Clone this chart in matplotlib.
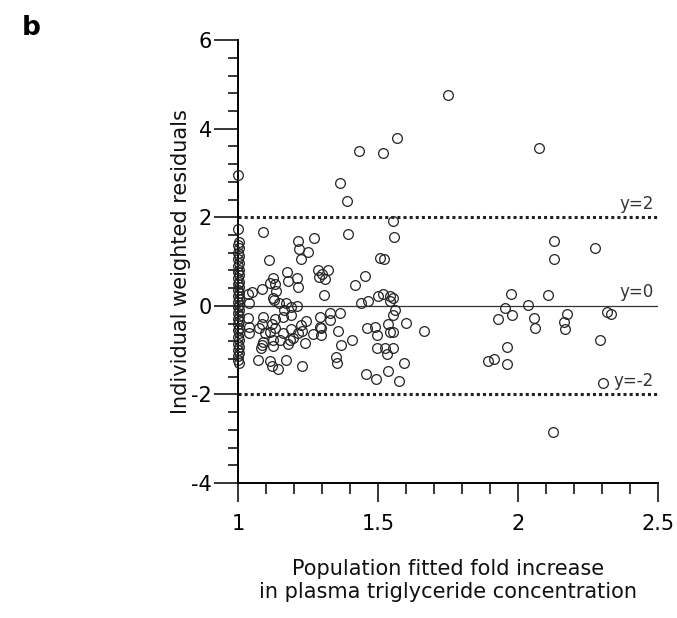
import matplotlib
matplotlib.use('Agg')
import matplotlib.pyplot as plt
from matplotlib.ticker import MultipleLocator

# points stacked at the x = 1 boundary
col_x = [1.0, 1.0, 1.002, 1.0, 1.003, 1.0, 1.002, 1.0, 1.004, 1.0, 1.002, 1.0, 1.003, 1.0,
         1.002, 1.0, 1.004, 1.0, 1.002, 1.0, 1.003, 1.0, 1.002, 1.0, 1.004, 1.0, 1.002, 1.0,
         1.003, 1.0, 1.002, 1.0, 1.004, 1.0, 1.002, 1.0, 1.003, 1.0, 1.002, 1.0, 1.0, 1.003]
col_y = [2.95, 1.73, 1.45, 1.38, 1.30, 1.20, 1.12, 1.05, 0.97, 0.90, 0.82, 0.76, 0.70, 0.62,
         0.55, 0.49, 0.42, 0.36, 0.30, 0.22, 0.15, 0.09, 0.03, -0.03, -0.10, -0.16, -0.22, -0.29,
         -0.35, -0.42, -0.49, -0.55, -0.62, -0.70, -0.78, -0.86, -0.93, -1.00, -1.06, -1.13, -1.22, -1.30]

# cluster between 1.0 and 1.4
left_x = [1.035, 1.048, 1.083, 1.038, 1.089, 1.11, 1.113, 1.125, 1.131, 1.134, 1.175, 1.178,
          1.208, 1.214, 1.212, 1.218, 1.25, 1.224, 1.271, 1.286, 1.319, 1.298, 1.289, 1.31,
          1.307, 1.123, 1.128, 1.146, 1.17, 1.187, 1.208, 1.164, 1.19, 1.16, 1.131, 1.087,
          1.035, 1.039, 1.039, 1.083, 1.075, 1.119, 1.131, 1.113, 1.095, 1.223, 1.242, 1.226,
          1.19, 1.214, 1.16, 1.266, 1.295, 1.295, 1.292, 1.292, 1.327, 1.363, 1.327, 1.357,
          1.366, 1.405, 1.089, 1.125, 1.149, 1.184, 1.196, 1.178, 1.238, 1.083, 1.08, 1.125,
          1.348, 1.353, 1.071, 1.115, 1.119, 1.143, 1.17, 1.226]
left_y = [0.26, 0.32, 0.37, 0.07, 1.67, 1.03, 0.52, 0.62, 0.49, 0.34, 0.76, 0.57,
          0.62, 0.42, 1.47, 1.28, 1.21, 1.05, 1.54, 0.82, 0.82, 0.73, 0.66, 0.60,
          0.24, 0.17, 0.13, 0.06, 0.07, -0.03, 0.0, -0.09, -0.21, -0.25, -0.30, -0.25,
          -0.28, -0.47, -0.62, -0.41, -0.51, -0.41, -0.51, -0.58, -0.62, -0.43, -0.34, -0.56,
          -0.53, -0.62, -0.62, -0.64, -0.51, -0.66, -0.26, -0.47, -0.17, -0.17, -0.32, -0.56,
          -0.88, -0.77, -0.81, -0.77, -0.77, -0.77, -0.73, -0.85, -0.83, -0.88, -0.94, -0.90,
          -1.15, -1.30, -1.22, -1.25, -1.35, -1.43, -1.22, -1.35]

# cluster between 1.35 and 1.75
mid_x = [1.363, 1.387, 1.393, 1.431, 1.452, 1.417, 1.498, 1.516, 1.542, 1.554, 1.464, 1.438,
         1.542, 1.559, 1.554, 1.598, 1.536, 1.542, 1.554, 1.665, 1.524, 1.554, 1.533, 1.593,
         1.536, 1.574, 1.455, 1.492, 1.461, 1.488, 1.494, 1.494, 1.506, 1.52, 1.554, 1.555,
         1.516, 1.568, 1.749]
mid_y = [2.77, 2.36, 1.62, 3.50, 0.67, 0.47, 0.22, 0.27, 0.23, 0.17, 0.12, 0.06,
         0.12, -0.09, -0.20, -0.38, -0.41, -0.58, -0.59, -0.56, -0.94, -0.96, -1.09, -1.29,
         -1.47, -1.70, -1.54, -1.64, -0.51, -0.47, -0.66, -0.94, 1.09, 1.06, 1.91, 1.55,
         3.45, 3.78, 4.77]

# points beyond 1.85
right_x = [1.974, 1.953, 1.927, 1.979, 2.036, 2.106, 2.055, 2.059, 2.173, 2.165, 2.167, 2.317,
           2.331, 2.294, 1.959, 1.893, 1.914, 1.959, 2.305, 2.125, 2.075, 2.127, 2.129, 2.273]
right_y = [0.27, -0.04, -0.29, -0.21, 0.02, 0.25, -0.27, -0.51, -0.19, -0.36, -0.52, -0.14,
           -0.19, -0.77, -0.92, -1.25, -1.21, -1.32, -1.74, -2.85, 3.57, 1.46, 1.06, 1.31]

x = col_x + left_x + mid_x + right_x
y = col_y + left_y + mid_y + right_y

ref_levels = [2, 0, -2]
ref_labels = ['y=2', 'y=0', 'y=-2']

plt.rcParams['font.family'] = 'DejaVu Sans'
plt.rcParams['axes.unicode_minus'] = False

fig = plt.figure(figsize=(6.77, 6.18), dpi=100)
ax = fig.add_axes([0.352, 0.2184, 0.620, 0.7166])

ax.axhline(0, color='#333333', lw=0.9, zorder=1)
ax.axhline(2, color='#222222', lw=2.2, ls=(0, (1, 1)), zorder=1)
ax.axhline(-2, color='#222222', lw=2.2, ls=(0, (1, 1)), zorder=1)

ax.plot(x, y, 'o', ms=7, mfc='none', mec='#222222', mew=0.9, clip_on=False, zorder=3)

for lev, lab in zip(ref_levels, ref_labels):
    ax.text(2.485, lev + 0.1, lab, ha='right', va='bottom', fontsize=12, color='#333333')

ax.set_xlim(1, 2.5)
ax.set_ylim(-4, 6)
ax.xaxis.set_minor_locator(MultipleLocator(0.1))
ax.yaxis.set_major_locator(MultipleLocator(2))
ax.yaxis.set_minor_locator(MultipleLocator(0.4))
ax.set_xticks([1, 1.5, 2, 2.5])
ax.set_xticklabels(['1', '1.5', '2', '2.5'])

ax.spines['top'].set_visible(False)
ax.spines['right'].set_visible(False)
ax.spines['left'].set_linewidth(1.4)
ax.spines['bottom'].set_linewidth(1.4)

ax.tick_params(axis='x', which='major', direction='out', length=14, width=1.1, pad=8, labelsize=15)
ax.tick_params(axis='x', which='minor', direction='out', length=8, width=1.1)
ax.tick_params(axis='y', which='major', direction='out', length=17, width=1.1, pad=2, labelsize=15)
ax.tick_params(axis='y', which='minor', direction='out', length=7, width=1.1)

ax.set_xlabel('Population fitted fold increase\nin plasma triglyceride concentration',
              fontsize=15, labelpad=18, color='#111111')
ax.set_ylabel('Individual weighted residuals', fontsize=15, labelpad=0, color='#111111')

fig.text(0.032, 0.955, 'b', fontsize=19, fontweight='bold', va='center', ha='left')

fig.savefig('out.png', dpi=100)
